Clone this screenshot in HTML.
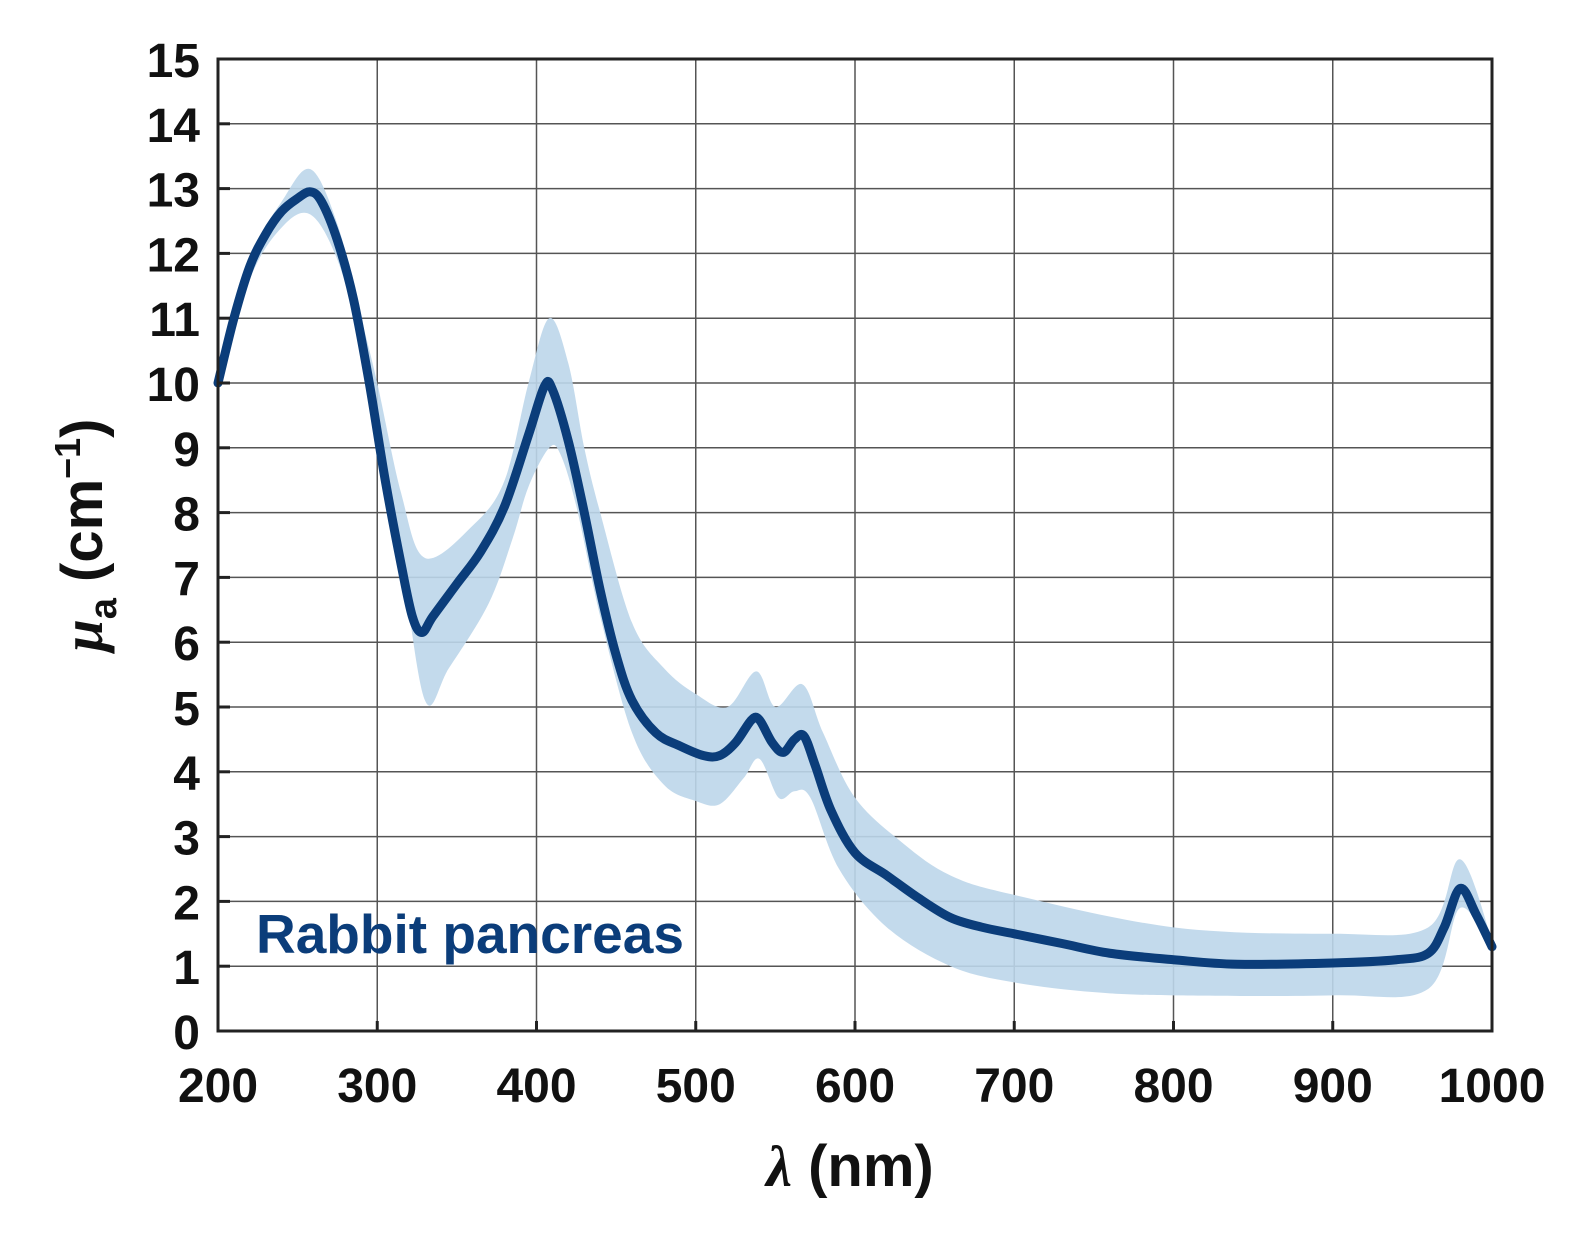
<!DOCTYPE html>
<html><head><meta charset="utf-8"><style>
body{margin:0;background:#fff;}
svg text{font-family:"Liberation Sans",sans-serif;font-weight:bold;}
</style></head><body>
<svg id="chart" width="1571" height="1228" xmlns="http://www.w3.org/2000/svg">
<g id="grid"></g>
<g id="band"></g>
<g id="line"></g>
<g id="axes"></g>
<text x="256" y="953" font-size="55" fill="#0b3d7a">Rabbit pancreas</text>
<text x="850" y="1186" font-size="58" text-anchor="middle" fill="#111"><tspan font-style="italic" font-family="Liberation Serif">λ</tspan> (nm)</text>
<text transform="translate(102,535) rotate(-90)" font-size="58" text-anchor="middle" fill="#111"><tspan font-style="italic" font-family="Liberation Serif">μ</tspan><tspan font-size="38" dy="14">a</tspan><tspan dy="-14"> (cm</tspan><tspan font-size="36" dy="-22">−1</tspan><tspan dy="22">)</tspan></text>
</svg>
<script>
const xTicks=[200,300,400,500,600,700,800,900,1000];
const yTicks=[0,1,2,3,4,5,6,7,8,9,10,11,12,13,14,15];
const meanX=[200,210,220,230,240,250,258,265,275,285,295,305,315,322,328,335,350,365,380,395,405,410,420,430,440,450,460,475,490,505,515,525,535,540,548,555,562,568,575,585,600,620,640,660,680,700,730,760,800,840,900,940,960,970,980,990,1000];
const meanY=[10.0,11.0,11.8,12.3,12.65,12.85,12.95,12.8,12.2,11.3,10.0,8.5,7.2,6.4,6.15,6.4,6.9,7.4,8.1,9.2,9.95,9.9,9.1,8.0,6.8,5.8,5.1,4.6,4.4,4.25,4.25,4.45,4.8,4.8,4.45,4.3,4.5,4.55,4.1,3.4,2.75,2.4,2.05,1.75,1.6,1.5,1.35,1.2,1.1,1.03,1.05,1.1,1.2,1.6,2.2,1.8,1.3];
const upX=[200,220,240,258,275,290,300,315,330,360,380,395,408,420,430,440,460,480,500,520,538,550,567,580,600,630,660,700,800,900,960,980,1000];
const upY=[10.1,11.9,12.8,13.3,12.45,11.0,10.0,8.3,7.3,7.8,8.5,10.0,11.0,10.3,9.0,8.0,6.3,5.6,5.2,5.0,5.55,5.0,5.35,4.6,3.6,2.9,2.4,2.1,1.6,1.5,1.6,2.65,1.4];
const loX=[200,220,240,258,275,290,300,315,330,345,370,385,395,408,415,425,440,460,480,500,515,530,540,552,562,572,590,620,660,700,750,800,900,960,980,1000];
const loY=[9.9,11.6,12.4,12.6,11.9,10.6,9.5,7.3,5.1,5.6,6.6,7.6,8.4,9.0,8.9,8.1,6.4,4.6,3.8,3.55,3.5,3.9,4.2,3.6,3.7,3.6,2.5,1.6,1.0,0.75,0.6,0.55,0.55,0.65,1.9,1.2];
const X0=218,X1=1492,Y0=1031,Y1=59;
const sx=v=>X0+(v-200)/800*(X1-X0);
const sy=v=>Y0-v/15*(Y0-Y1);
const NS="http://www.w3.org/2000/svg";
function mk(tag,parent,attrs){const e=document.createElementNS(NS,tag);for(const k in attrs)e.setAttribute(k,attrs[k]);parent.appendChild(e);return e;}
function smooth(xs,ys,start){
  const p=xs.map((x,i)=>[sx(x),sy(ys[i])]);
  let d=(start?'M':'L')+p[0][0]+','+p[0][1];
  for(let i=0;i<p.length-1;i++){
    const p0=p[Math.max(0,i-1)],p1=p[i],p2=p[i+1],p3=p[Math.min(p.length-1,i+2)];
    const c1=[p1[0]+(p2[0]-p0[0])/6,p1[1]+(p2[1]-p0[1])/6];
    const c2=[p2[0]-(p3[0]-p1[0])/6,p2[1]-(p3[1]-p1[1])/6];
    d+='C'+c1[0]+','+c1[1]+' '+c2[0]+','+c2[1]+' '+p2[0]+','+p2[1];
  }
  return d;
}
const grid=document.getElementById('grid'),axes=document.getElementById('axes');
xTicks.forEach(t=>{
  const l=mk('line',grid,{x1:sx(t),x2:sx(t),y1:Y1,y2:Y0,stroke:'#555','stroke-width':1.5});
  
  
  const tk=mk('line',axes,{x1:sx(t),x2:sx(t),y1:Y0,y2:Y0-10,stroke:'#222','stroke-width':3});
  
  
  const tx=mk('text',axes,{x:sx(t),y:1102,'font-size':48,'text-anchor':'middle',fill:'#111'});
  tx.textContent=t;
  
  
});
yTicks.forEach(t=>{
  const l=mk('line',grid,{x1:X0,x2:X1,y1:sy(t),y2:sy(t),stroke:'#555','stroke-width':1.5});
  
  
  const tk=mk('line',axes,{x1:X0,x2:X0+12,y1:sy(t),y2:sy(t),stroke:'#222','stroke-width':3});
  
  
  const tx=mk('text',axes,{x:200,y:sy(t)+18,'font-size':48,'text-anchor':'end',fill:'#111'});
  tx.textContent=t;
  
  
});
const frame=mk('rect',axes,{x:X0,y:Y1,width:X1-X0,height:Y0-Y1,fill:'none',stroke:'#222','stroke-width':3});


const rx=loX.slice().reverse(),ry=loY.slice().reverse();
const band=mk('path',document.getElementById('band'),{d:smooth(upX,upY,true)+smooth(rx,ry,false)+'Z',fill:'#bcd6ea','fill-opacity':0.9});


const ln=mk('path',document.getElementById('line'),{d:smooth(meanX,meanY,true),fill:'none',stroke:'#0b3d7a','stroke-width':9,'stroke-linejoin':'round','stroke-linecap':'round'});


</script>
</body></html>
